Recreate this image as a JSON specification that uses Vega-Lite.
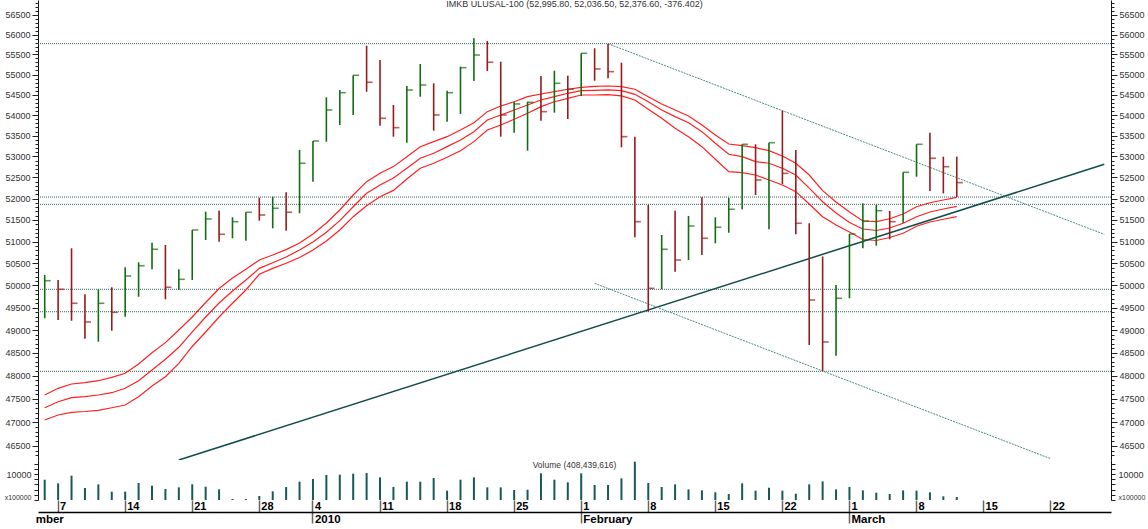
{
"$schema": "https://vega.github.io/schema/vega-lite/v6.json",
"padding": 0,
"config": {"view": {"stroke": null}, "font": "Liberation Sans"},
"datasets": {
"ohlc": [
{"date":"2009-12-04","high":50234,"low":49261,"close":50105,"volume":7820,"dir":"up"},
{"date":"2009-12-07","high":50121,"low":49223,"close":49911,"volume":6410,"dir":"down"},
{"date":"2009-12-08","high":50845,"low":49207,"close":49596,"volume":9360,"dir":"down"},
{"date":"2009-12-09","high":49798,"low":48809,"close":49179,"volume":4620,"dir":"down"},
{"date":"2009-12-10","high":49911,"low":48743,"close":49596,"volume":6030,"dir":"up"},
{"date":"2009-12-11","high":49956,"low":48985,"close":49394,"volume":3210,"dir":"down"},
{"date":"2009-12-14","high":50410,"low":49296,"close":50211,"volume":3210,"dir":"up"},
{"date":"2009-12-15","high":50524,"low":49744,"close":50446,"volume":6540,"dir":"up"},
{"date":"2009-12-16","high":50974,"low":50364,"close":50822,"volume":5510,"dir":"up"},
{"date":"2009-12-17","high":50921,"low":49686,"close":49956,"volume":4230,"dir":"down"},
{"date":"2009-12-18","high":50364,"low":49895,"close":50137,"volume":4870,"dir":"up"},
{"date":"2009-12-21","high":51267,"low":50121,"close":51267,"volume":6030,"dir":"up"},
{"date":"2009-12-22","high":51693,"low":51036,"close":51523,"volume":5130,"dir":"up"},
{"date":"2009-12-23","high":51716,"low":50997,"close":51167,"volume":4100,"dir":"down"},
{"date":"2009-12-24","high":51562,"low":51075,"close":51460,"volume":380,"dir":"up"},
{"date":"2009-12-25","high":51679,"low":51020,"close":51679,"volume":380,"dir":"up"},
{"date":"2009-12-28","high":52021,"low":51483,"close":51616,"volume":1540,"dir":"down"},
{"date":"2009-12-29","high":52044,"low":51306,"close":51772,"volume":3330,"dir":"up"},
{"date":"2009-12-30","high":52148,"low":51250,"close":51679,"volume":5000,"dir":"down"},
{"date":"2009-12-31","high":53155,"low":51656,"close":52837,"volume":7050,"dir":"up"},
{"date":"2010-01-04","high":53372,"low":52398,"close":53372,"volume":8080,"dir":"up"},
{"date":"2010-01-05","high":54436,"low":53355,"close":54125,"volume":9620,"dir":"up"},
{"date":"2010-01-06","high":54617,"low":53759,"close":54550,"volume":9740,"dir":"up"},
{"date":"2010-01-07","high":54980,"low":54003,"close":54980,"volume":10130,"dir":"up"},
{"date":"2010-01-08","high":55721,"low":54574,"close":54807,"volume":10380,"dir":"down"},
{"date":"2010-01-11","high":55362,"low":53742,"close":53922,"volume":8720,"dir":"down"},
{"date":"2010-01-12","high":54247,"low":53476,"close":53694,"volume":5000,"dir":"down"},
{"date":"2010-01-13","high":54715,"low":53331,"close":54617,"volume":7050,"dir":"up"},
{"date":"2010-01-14","high":55262,"low":54451,"close":54740,"volume":7050,"dir":"up"},
{"date":"2010-01-15","high":54782,"low":53621,"close":54003,"volume":8460,"dir":"down"},
{"date":"2010-01-18","high":54600,"low":53840,"close":54550,"volume":3590,"dir":"up"},
{"date":"2010-01-19","high":55195,"low":54027,"close":55170,"volume":7820,"dir":"up"},
{"date":"2010-01-20","high":55907,"low":54839,"close":55487,"volume":8720,"dir":"up"},
{"date":"2010-01-21","high":55840,"low":55087,"close":55305,"volume":4870,"dir":"down"},
{"date":"2010-01-22","high":55319,"low":53476,"close":54003,"volume":4870,"dir":"down"},
{"date":"2010-01-25","high":54328,"low":53573,"close":54272,"volume":3850,"dir":"up"},
{"date":"2010-01-26","high":54328,"low":53138,"close":54313,"volume":3970,"dir":"up"},
{"date":"2010-01-27","high":54963,"low":53865,"close":54084,"volume":10260,"dir":"down"},
{"date":"2010-01-28","high":55095,"low":54060,"close":54782,"volume":7820,"dir":"up"},
{"date":"2010-01-29","high":54970,"low":53905,"close":54634,"volume":6800,"dir":"down"},
{"date":"2010-02-01","high":55530,"low":54469,"close":55530,"volume":10260,"dir":"up"},
{"date":"2010-02-02","high":55656,"low":54846,"close":55138,"volume":5770,"dir":"down"},
{"date":"2010-02-03","high":55772,"low":54906,"close":55071,"volume":5770,"dir":"down"},
{"date":"2010-02-04","high":55294,"low":53220,"close":53476,"volume":8330,"dir":"down"},
{"date":"2010-02-05","high":53476,"low":51098,"close":51460,"volume":14740,"dir":"down"},
{"date":"2010-02-08","high":51849,"low":49407,"close":49933,"volume":6540,"dir":"down"},
{"date":"2010-02-09","high":51151,"low":49911,"close":50822,"volume":5000,"dir":"up"},
{"date":"2010-02-10","high":51716,"low":50308,"close":50576,"volume":6030,"dir":"down"},
{"date":"2010-02-11","high":51593,"low":50576,"close":51360,"volume":4100,"dir":"up"},
{"date":"2010-02-12","high":52030,"low":50691,"close":51075,"volume":3720,"dir":"down"},
{"date":"2010-02-15","high":51562,"low":50960,"close":51330,"volume":2950,"dir":"up"},
{"date":"2010-02-16","high":52021,"low":51204,"close":51749,"volume":2310,"dir":"up"},
{"date":"2010-02-17","high":53292,"low":51749,"close":53292,"volume":6410,"dir":"up"},
{"date":"2010-02-18","high":53292,"low":52084,"close":52438,"volume":3590,"dir":"down"},
{"date":"2010-02-19","high":53331,"low":51283,"close":53331,"volume":4740,"dir":"up"},
{"date":"2010-02-22","high":54108,"low":52344,"close":52596,"volume":3590,"dir":"down"},
{"date":"2010-02-23","high":53155,"low":51167,"close":51423,"volume":2440,"dir":"down"},
{"date":"2010-02-24","high":51423,"low":48670,"close":49670,"volume":6030,"dir":"down"},
{"date":"2010-02-25","high":50658,"low":48094,"close":48736,"volume":7180,"dir":"down"},
{"date":"2010-02-26","high":50008,"low":48435,"close":49708,"volume":4100,"dir":"up"},
{"date":"2010-03-01","high":51174,"low":49708,"close":51174,"volume":5000,"dir":"up"},
{"date":"2010-03-02","high":51889,"low":50845,"close":51476,"volume":3720,"dir":"up"},
{"date":"2010-03-03","high":51849,"low":50905,"close":51716,"volume":2820,"dir":"up"},
{"date":"2010-03-04","high":51709,"low":51052,"close":51460,"volume":2310,"dir":"down"},
{"date":"2010-03-05","high":52622,"low":51436,"close":52622,"volume":3720,"dir":"up"},
{"date":"2010-03-08","high":53292,"low":52517,"close":53292,"volume":3590,"dir":"up"},
{"date":"2010-03-09","high":53573,"low":52178,"close":52956,"volume":2950,"dir":"down"},
{"date":"2010-03-10","high":52994,"low":52122,"close":52755,"volume":1410,"dir":"down"},
{"date":"2010-03-11","high":52995.8,"low":52036.5,"close":52376.6,"volume":1150,"dir":"down"}
],
"ma": [
{"date":"2009-12-04","upper":47582,"middle":47309,"lower":47047},
{"date":"2009-12-07","upper":47726,"middle":47438,"lower":47153},
{"date":"2009-12-08","upper":47819,"middle":47524,"lower":47211},
{"date":"2009-12-09","upper":47847,"middle":47545,"lower":47228},
{"date":"2009-12-10","upper":47890,"middle":47582,"lower":47254},
{"date":"2009-12-11","upper":47964,"middle":47631,"lower":47309},
{"date":"2009-12-14","upper":48051,"middle":47726,"lower":47367},
{"date":"2009-12-15","upper":48253,"middle":47890,"lower":47545},
{"date":"2009-12-16","upper":48501,"middle":48123,"lower":47776},
{"date":"2009-12-17","upper":48721,"middle":48356,"lower":47977},
{"date":"2009-12-18","upper":49001,"middle":48619,"lower":48268},
{"date":"2009-12-21","upper":49290,"middle":48957,"lower":48637},
{"date":"2009-12-22","upper":49614,"middle":49290,"lower":48957},
{"date":"2009-12-23","upper":49929,"middle":49603,"lower":49290},
{"date":"2009-12-24","upper":50166,"middle":49872,"lower":49596},
{"date":"2009-12-25","upper":50364,"middle":50121,"lower":49895},
{"date":"2009-12-28","upper":50576,"middle":50386,"lower":50250},
{"date":"2009-12-29","upper":50691,"middle":50514,"lower":50386},
{"date":"2009-12-30","upper":50813,"middle":50645,"lower":50501},
{"date":"2009-12-31","upper":50967,"middle":50806,"lower":50633},
{"date":"2010-01-04","upper":51174,"middle":50990,"lower":50806},
{"date":"2010-01-05","upper":51430,"middle":51213,"lower":51013},
{"date":"2010-01-06","upper":51732,"middle":51483,"lower":51267},
{"date":"2010-01-07","upper":52084,"middle":51809,"lower":51576},
{"date":"2010-01-08","upper":52399,"middle":52124,"lower":51833},
{"date":"2010-01-11","upper":52598,"middle":52320,"lower":52044},
{"date":"2010-01-12","upper":52757,"middle":52486,"lower":52193},
{"date":"2010-01-13","upper":52995,"middle":52717,"lower":52462},
{"date":"2010-01-14","upper":53235,"middle":52956,"lower":52717},
{"date":"2010-01-15","upper":53356,"middle":53076,"lower":52836},
{"date":"2010-01-18","upper":53476,"middle":53235,"lower":52980},
{"date":"2010-01-19","upper":53638,"middle":53396,"lower":53138},
{"date":"2010-01-20","upper":53815,"middle":53597,"lower":53356},
{"date":"2010-01-21","upper":54084,"middle":53881,"lower":53638},
{"date":"2010-01-22","upper":54222,"middle":54003,"lower":53759},
{"date":"2010-01-25","upper":54328,"middle":54125,"lower":53898},
{"date":"2010-01-26","upper":54452,"middle":54247,"lower":54044},
{"date":"2010-01-27","upper":54518,"middle":54370,"lower":54206},
{"date":"2010-01-28","upper":54575,"middle":54452,"lower":54328},
{"date":"2010-01-29","upper":54634,"middle":54535,"lower":54411},
{"date":"2010-02-01","upper":54683,"middle":54600,"lower":54493},
{"date":"2010-02-02","upper":54708,"middle":54609,"lower":54493},
{"date":"2010-02-03","upper":54715,"middle":54617,"lower":54501},
{"date":"2010-02-04","upper":54699,"middle":54600,"lower":54469},
{"date":"2010-02-05","upper":54634,"middle":54510,"lower":54370},
{"date":"2010-02-08","upper":54452,"middle":54328,"lower":54141},
{"date":"2010-02-09","upper":54272,"middle":54125,"lower":53922},
{"date":"2010-02-10","upper":54125,"middle":53962,"lower":53679},
{"date":"2010-02-11","upper":53979,"middle":53815,"lower":53476},
{"date":"2010-02-12","upper":53759,"middle":53597,"lower":53235},
{"date":"2010-02-15","upper":53517,"middle":53316,"lower":52932},
{"date":"2010-02-16","upper":53299,"middle":53052,"lower":52637},
{"date":"2010-02-17","upper":53258,"middle":52995,"lower":52613},
{"date":"2010-02-18","upper":53210,"middle":52876,"lower":52557},
{"date":"2010-02-19","upper":53138,"middle":52837,"lower":52438},
{"date":"2010-02-22","upper":53011,"middle":52717,"lower":52320},
{"date":"2010-02-23","upper":52837,"middle":52557,"lower":52163},
{"date":"2010-02-24","upper":52557,"middle":52246,"lower":51873},
{"date":"2010-02-25","upper":52186,"middle":51927,"lower":51576},
{"date":"2010-02-26","upper":51919,"middle":51662,"lower":51383},
{"date":"2010-03-01","upper":51686,"middle":51442,"lower":51221},
{"date":"2010-03-02","upper":51476,"middle":51290,"lower":51047},
{"date":"2010-03-03","upper":51460,"middle":51255,"lower":51024},
{"date":"2010-03-04","upper":51527,"middle":51313,"lower":51093},
{"date":"2010-03-05","upper":51639,"middle":51423,"lower":51190},
{"date":"2010-03-08","upper":51809,"middle":51576,"lower":51353},
{"date":"2010-03-09","upper":51903,"middle":51686,"lower":51453},
{"date":"2010-03-10","upper":51966,"middle":51756,"lower":51516},
{"date":"2010-03-11","upper":52030,"middle":51819,"lower":51576}
],
"levels": [{"level":55772},{"level":52036.5},{"level":51865},{"level":49911},{"level":49407},{"level":48094}],
"support": [{"date":"2009-12-18","value":46204},{"date":"2010-03-26","value":52812}],
"channel": [
{"line":"upper","date":"2010-02-03","value":55772},{"line":"upper","date":"2010-03-26","value":51165},
{"line":"lower","date":"2010-02-02","value":50046},{"line":"lower","date":"2010-03-22","value":46231}
]
},
"vconcat": [
{
"width": 1073, "height": 460,
"title": {"text": "IMKB ULUSAL-100 (52,995.80, 52,036.50, 52,376.60, -376.402)", "anchor": "middle", "offset": -9, "fontSize": 9, "fontWeight": "normal", "color": "#333333", "font": "Liberation Sans"},
"layer": [
{"data": {"name": "levels"},
 "mark": {"type": "rule", "color": "#2b6464", "strokeWidth": 1, "strokeDash": [1, 1]},
 "encoding": {"y": {"field": "level", "type": "quantitative", "scale": {"type": "log", "domain": [46204, 56884], "nice": false},
   "axis": {"orient": "left", "values": [46500,47000,47500,48000,48500,49000,49500,50000,50500,51000,51500,52000,52500,53000,53500,54000,54500,55000,55500,56000,56500], "format": "d", "tickSize": 6, "labelPadding": 2, "labelFont": "Liberation Sans", "labelFontSize": 9, "labelColor": "#333333", "tickColor": "#222222", "domainColor": "#111111", "domainWidth": 1, "grid": false, "title": null, "minExtent": 38, "maxExtent": 38, "labelOverlap": false, "labelFlush": false, "labelBound": false}}}},
{"data": {"name": "ma"},
 "transform": [{"fold": ["upper", "middle", "lower"], "as": ["band", "value"]}],
 "mark": {"type": "line", "color": "#ff2020", "strokeWidth": 1.2, "clip": true},
 "encoding": {
  "x": {"field": "date", "type": "ordinal", "scale": {"type": "band", "paddingInner": 0, "paddingOuter": 0, "domain": ["2009-12-04","2009-12-07","2009-12-08","2009-12-09","2009-12-10","2009-12-11","2009-12-14","2009-12-15","2009-12-16","2009-12-17","2009-12-18","2009-12-21","2009-12-22","2009-12-23","2009-12-24","2009-12-25","2009-12-28","2009-12-29","2009-12-30","2009-12-31","2010-01-04","2010-01-05","2010-01-06","2010-01-07","2010-01-08","2010-01-11","2010-01-12","2010-01-13","2010-01-14","2010-01-15","2010-01-18","2010-01-19","2010-01-20","2010-01-21","2010-01-22","2010-01-25","2010-01-26","2010-01-27","2010-01-28","2010-01-29","2010-02-01","2010-02-02","2010-02-03","2010-02-04","2010-02-05","2010-02-08","2010-02-09","2010-02-10","2010-02-11","2010-02-12","2010-02-15","2010-02-16","2010-02-17","2010-02-18","2010-02-19","2010-02-22","2010-02-23","2010-02-24","2010-02-25","2010-02-26","2010-03-01","2010-03-02","2010-03-03","2010-03-04","2010-03-05","2010-03-08","2010-03-09","2010-03-10","2010-03-11","2010-03-12","2010-03-15","2010-03-16","2010-03-17","2010-03-18","2010-03-19","2010-03-22","2010-03-23","2010-03-24","2010-03-25","2010-03-26"]}, "axis": null},
  "y": {"field": "value", "type": "quantitative", "scale": {"type": "log", "domain": [46204, 56884], "nice": false},
   "axis": {"orient": "left", "values": [46300,46400,46600,46700,46800,46900,47100,47200,47300,47400,47600,47700,47800,47900,48100,48200,48300,48400,48600,48700,48800,48900,49100,49200,49300,49400,49600,49700,49800,49900,50100,50200,50300,50400,50600,50700,50800,50900,51100,51200,51300,51400,51600,51700,51800,51900,52100,52200,52300,52400,52600,52700,52800,52900,53100,53200,53300,53400,53600,53700,53800,53900,54100,54200,54300,54400,54600,54700,54800,54900,55100,55200,55300,55400,55600,55700,55800,55900,56100,56200,56300,56400,56600,56700,56800], "labels": false, "tickSize": 3, "tickColor": "#222222", "domain": false, "grid": false, "title": null, "minExtent": 38, "maxExtent": 38}},
  "detail": {"field": "band", "type": "nominal"}}},
{"data": {"name": "support"},
 "mark": {"type": "line", "color": "#0f4c4c", "strokeWidth": 1.5, "clip": true},
 "encoding": {
  "x": {"field": "date", "type": "ordinal", "scale": {"type": "band", "paddingInner": 0, "paddingOuter": 0}, "axis": null},
  "y": {"field": "value", "type": "quantitative", "scale": {"type": "log", "domain": [46204, 56884], "nice": false}, "axis": null}}},
{"data": {"name": "channel"},
 "mark": {"type": "line", "color": "#4a8a8a", "strokeWidth": 1, "strokeDash": [2, 1], "clip": true},
 "encoding": {
  "x": {"field": "date", "type": "ordinal", "scale": {"type": "band", "paddingInner": 0, "paddingOuter": 0}, "axis": null},
  "y": {"field": "value", "type": "quantitative", "scale": {"type": "log", "domain": [46204, 56884], "nice": false}, "axis": null},
  "detail": {"field": "line", "type": "nominal"}}},
{"data": {"name": "ohlc"},
 "mark": {"type": "rule", "strokeWidth": 1.6},
 "encoding": {
  "x": {"field": "date", "type": "ordinal", "scale": {"type": "band", "paddingInner": 0, "paddingOuter": 0, "domain": ["2009-12-04","2009-12-07","2009-12-08","2009-12-09","2009-12-10","2009-12-11","2009-12-14","2009-12-15","2009-12-16","2009-12-17","2009-12-18","2009-12-21","2009-12-22","2009-12-23","2009-12-24","2009-12-25","2009-12-28","2009-12-29","2009-12-30","2009-12-31","2010-01-04","2010-01-05","2010-01-06","2010-01-07","2010-01-08","2010-01-11","2010-01-12","2010-01-13","2010-01-14","2010-01-15","2010-01-18","2010-01-19","2010-01-20","2010-01-21","2010-01-22","2010-01-25","2010-01-26","2010-01-27","2010-01-28","2010-01-29","2010-02-01","2010-02-02","2010-02-03","2010-02-04","2010-02-05","2010-02-08","2010-02-09","2010-02-10","2010-02-11","2010-02-12","2010-02-15","2010-02-16","2010-02-17","2010-02-18","2010-02-19","2010-02-22","2010-02-23","2010-02-24","2010-02-25","2010-02-26","2010-03-01","2010-03-02","2010-03-03","2010-03-04","2010-03-05","2010-03-08","2010-03-09","2010-03-10","2010-03-11","2010-03-12","2010-03-15","2010-03-16","2010-03-17","2010-03-18","2010-03-19","2010-03-22","2010-03-23","2010-03-24","2010-03-25","2010-03-26"]}, "axis": null},
  "y": {"field": "low", "type": "quantitative", "scale": {"type": "log", "domain": [46204, 56884], "nice": false},
   "axis": {"orient": "right", "values": [46500,47000,47500,48000,48500,49000,49500,50000,50500,51000,51500,52000,52500,53000,53500,54000,54500,55000,55500,56000,56500], "format": "d", "tickSize": 6, "labelPadding": 2, "labelFont": "Liberation Sans", "labelFontSize": 9, "labelColor": "#333333", "tickColor": "#222222", "domainColor": "#111111", "domainWidth": 1, "grid": false, "title": null, "minExtent": 37, "maxExtent": 37, "labelOverlap": false, "labelFlush": false, "labelBound": false}},
  "y2": {"field": "high"},
  "color": {"field": "dir", "type": "nominal", "scale": {"domain": ["up", "down"], "range": ["#126c12", "#961b1b"]}, "legend": null}}},
{"data": {"name": "ohlc"},
 "mark": {"type": "tick", "orient": "horizontal", "size": 6, "thickness": 1.6, "xOffset": 3},
 "encoding": {
  "x": {"field": "date", "type": "ordinal", "scale": {"type": "band", "paddingInner": 0, "paddingOuter": 0}, "axis": null},
  "y": {"field": "close", "type": "quantitative", "scale": {"type": "log", "domain": [46204, 56884], "nice": false},
   "axis": {"orient": "right", "values": [46300,46400,46600,46700,46800,46900,47100,47200,47300,47400,47600,47700,47800,47900,48100,48200,48300,48400,48600,48700,48800,48900,49100,49200,49300,49400,49600,49700,49800,49900,50100,50200,50300,50400,50600,50700,50800,50900,51100,51200,51300,51400,51600,51700,51800,51900,52100,52200,52300,52400,52600,52700,52800,52900,53100,53200,53300,53400,53600,53700,53800,53900,54100,54200,54300,54400,54600,54700,54800,54900,55100,55200,55300,55400,55600,55700,55800,55900,56100,56200,56300,56400,56600,56700,56800], "labels": false, "tickSize": 3, "tickColor": "#222222", "domain": false, "grid": false, "title": null, "minExtent": 37, "maxExtent": 37}},
  "color": {"field": "dir", "type": "nominal", "scale": {"domain": ["up", "down"], "range": ["#126c12", "#961b1b"]}, "legend": null}}}
],
"resolve": {"axis": {"y": "independent"}}
},
{
"width": 1073, "height": 40,
"title": {"text": "Volume (408,439,616)", "anchor": "middle", "offset": -10, "fontSize": 8.5, "fontWeight": "normal", "color": "#333333", "font": "Liberation Sans"},
"data": {"name": "ohlc"},
"layer": [
{"mark": {"type": "rule", "color": "#175959", "strokeWidth": 2},
 "encoding": {
  "x": {"field": "date", "type": "ordinal", "scale": {"type": "band", "paddingInner": 0, "paddingOuter": 0, "domain": ["2009-12-04","2009-12-07","2009-12-08","2009-12-09","2009-12-10","2009-12-11","2009-12-14","2009-12-15","2009-12-16","2009-12-17","2009-12-18","2009-12-21","2009-12-22","2009-12-23","2009-12-24","2009-12-25","2009-12-28","2009-12-29","2009-12-30","2009-12-31","2010-01-04","2010-01-05","2010-01-06","2010-01-07","2010-01-08","2010-01-11","2010-01-12","2010-01-13","2010-01-14","2010-01-15","2010-01-18","2010-01-19","2010-01-20","2010-01-21","2010-01-22","2010-01-25","2010-01-26","2010-01-27","2010-01-28","2010-01-29","2010-02-01","2010-02-02","2010-02-03","2010-02-04","2010-02-05","2010-02-08","2010-02-09","2010-02-10","2010-02-11","2010-02-12","2010-02-15","2010-02-16","2010-02-17","2010-02-18","2010-02-19","2010-02-22","2010-02-23","2010-02-24","2010-02-25","2010-02-26","2010-03-01","2010-03-02","2010-03-03","2010-03-04","2010-03-05","2010-03-08","2010-03-09","2010-03-10","2010-03-11","2010-03-12","2010-03-15","2010-03-16","2010-03-17","2010-03-18","2010-03-19","2010-03-22","2010-03-23","2010-03-24","2010-03-25","2010-03-26"]},
   "axis": {"orient": "bottom", "values": ["2009-12-07","2009-12-14","2009-12-21","2009-12-28","2010-01-04","2010-01-11","2010-01-18","2010-01-25","2010-02-01","2010-02-08","2010-02-15","2010-02-22","2010-03-01","2010-03-08","2010-03-15","2010-03-22"], "labelExpr": "'' + toNumber(substring(datum.value, 8, 10))", "labelAngle": 0, "labelAlign": "left", "labelBaseline": "top", "labelOffset": 2, "labelPadding": -11.5, "tickSize": 12, "tickColor": "#666666", "tickWidth": 1.5, "domain": false, "grid": false, "title": null, "labelFont": "Liberation Sans", "labelFontWeight": "bold", "labelFontSize": 11, "labelColor": "#000000", "labelOverlap": false, "labelBound": false, "labelFlush": false}},
  "y": {"field": "volume", "type": "quantitative", "scale": {"domain": [0, 15400], "nice": false},
   "axis": {"orient": "left", "values": [0, 2000, 4000, 6000, 8000, 10000, 12000, 14000], "labelExpr": "datum.value == 0 ? 'x100000' : datum.value == 10000 ? '10000' : ''", "labelFontSize": {"condition": {"test": "datum.value == 0", "value": 7}, "value": 9}, "labelBaseline": {"condition": {"test": "datum.value == 0", "value": "bottom"}, "value": "middle"}, "tickSize": 4, "labelPadding": 3, "labelFont": "Liberation Sans", "labelColor": "#333333", "tickColor": "#222222", "domainColor": "#111111", "domainWidth": 1, "grid": false, "title": null, "minExtent": 38, "maxExtent": 38, "labelOverlap": false, "labelFlush": false, "labelBound": false}},
  "y2": {"datum": 0}}},
{"mark": {"type": "rule", "opacity": 0},
 "encoding": {
  "x": {"field": "date", "type": "ordinal", "scale": {"type": "band", "paddingInner": 0, "paddingOuter": 0},
   "axis": {"orient": "bottom", "offset": 12, "values": ["2009-12-04", "2010-01-04", "2010-02-01", "2010-03-01"], "labelExpr": "datum.value == '2010-01-04' ? '2010' : datum.value == '2010-02-01' ? 'February' : datum.value == '2010-03-01' ? 'March' : 'mber'", "labelAngle": 0, "labelAlign": "left", "labelBaseline": "top", "labelOffset": {"condition": {"test": "datum.value == '2009-12-04'", "value": -9}, "value": 2}, "labelPadding": -9.5, "tickSize": 11, "tickColor": "#666666", "tickOpacity": {"condition": {"test": "datum.value == '2009-12-04'", "value": 0}, "value": 1}, "tickWidth": 1.5, "domain": true, "domainColor": "#000000", "domainWidth": 1.5, "grid": false, "title": null, "labelFont": "Liberation Sans", "labelFontWeight": "bold", "labelFontSize": 11.5, "labelColor": "#000000", "labelOverlap": false, "labelBound": false, "labelFlush": false}},
  "y": {"field": "volume", "type": "quantitative", "scale": {"domain": [0, 15400], "nice": false},
   "axis": {"orient": "right", "values": [0, 2000, 4000, 6000, 8000, 10000, 12000, 14000], "labelExpr": "datum.value == 0 ? 'x100000' : datum.value == 10000 ? '10000' : ''", "labelFontSize": {"condition": {"test": "datum.value == 0", "value": 7}, "value": 9}, "labelBaseline": {"condition": {"test": "datum.value == 0", "value": "bottom"}, "value": "middle"}, "tickSize": 4, "labelPadding": 3, "labelFont": "Liberation Sans", "labelColor": "#333333", "tickColor": "#222222", "domainColor": "#111111", "domainWidth": 1, "grid": false, "title": null, "minExtent": 37, "maxExtent": 37, "labelOverlap": false, "labelFlush": false, "labelBound": false}},
  "y2": {"datum": 0}}}
],
"resolve": {"axis": {"x": "independent", "y": "independent"}}
}
],
"spacing": 0,
"bounds": "flush"
}
